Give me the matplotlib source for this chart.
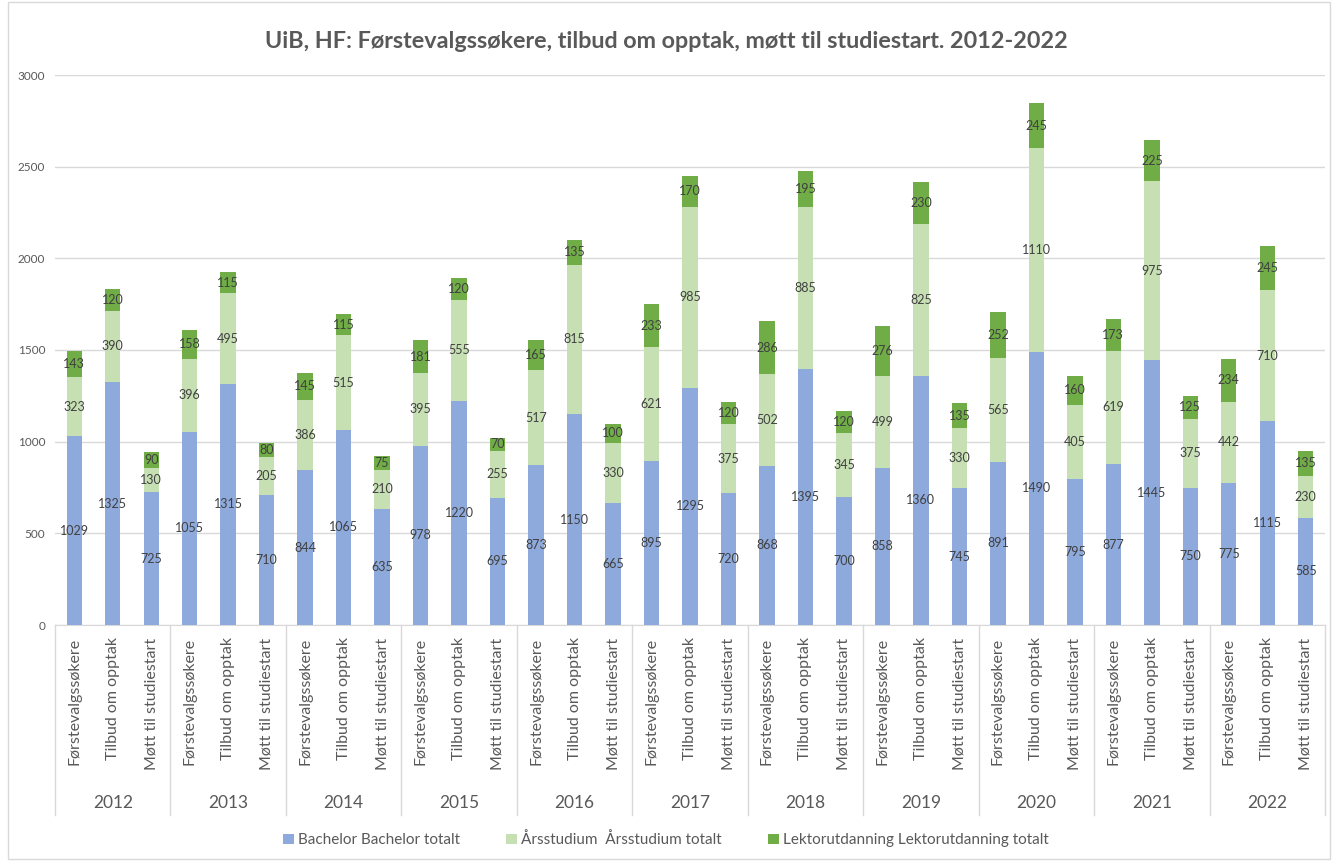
import matplotlib
matplotlib.use('Agg')
import matplotlib.pyplot as plt
import numpy as np

plt.rcParams['font.family'] = ['Lato', 'DejaVu Sans']

years = ['2012', '2013', '2014', '2015', '2016', '2017', '2018', '2019', '2020', '2021', '2022']
stages = ['Førstevalgssøkere', 'Tilbud om opptak', 'Møtt til studiestart']

bachelor = [1029, 1325, 725, 1055, 1315, 710, 844, 1065, 635, 978, 1220, 695,
            873, 1150, 665, 895, 1295, 720, 868, 1395, 700, 858, 1360, 745,
            891, 1490, 795, 877, 1445, 750, 775, 1115, 585]
arsstudium = [323, 390, 130, 396, 495, 205, 386, 515, 210, 395, 555, 255,
              517, 815, 330, 621, 985, 375, 502, 885, 345, 499, 825, 330,
              565, 1110, 405, 619, 975, 375, 442, 710, 230]
lektor = [143, 120, 90, 158, 115, 80, 145, 115, 75, 181, 120, 70,
          165, 135, 100, 233, 170, 120, 286, 195, 120, 276, 230, 135,
          252, 245, 160, 173, 225, 125, 234, 245, 135]

series_names = ['Bachelor Bachelor totalt', 'Årsstudium  Årsstudium totalt',
                'Lektorutdanning Lektorutdanning totalt']
colors = ['#8EA9DB', '#C6E0B4', '#70AD47']

text_col = '#595959'
label_col = '#404040'

fig = plt.figure(figsize=(13.32, 8.61), dpi=100)
ax = fig.add_axes([55 / 1332, 1 - 625 / 861, 1270 / 1332, 550 / 861])

x = np.arange(len(bachelor))
bottom = np.zeros(len(bachelor))
for vals, name, col in zip([bachelor, arsstudium, lektor], series_names, colors):
    bars = ax.bar(x, vals, width=0.4, bottom=bottom, color=col, label=name, zorder=3)
    ax.bar_label(bars, label_type='center', fontsize=9, color=label_col)
    bottom += np.array(vals)

ax.set_xlim(-0.5, len(bachelor) - 0.5)
ax.set_ylim(0, 3000)
ax.set_yticks(np.arange(0, 3001, 500))
ax.grid(axis='y', color='#D9D9D9', linewidth=1, zorder=0)
for s in ['top', 'right', 'left']:
    ax.spines[s].set_visible(False)
ax.spines['bottom'].set_color('#D9D9D9')
ax.tick_params(axis='y', length=0, labelsize=8.5, labelcolor=text_col, pad=7)

ax.set_xticks(x)
ax.set_xticklabels(stages * len(years), rotation=90, fontsize=11.5, color=text_col)
ax.tick_params(axis='x', length=0, pad=9)

trans = ax.get_xaxis_transform()
for i, yr in enumerate(years):
    ax.text(i * 3 + 1, -0.324, yr, transform=trans, ha='center', va='center',
            fontsize=12.5, color=text_col)
for b in np.arange(-0.5, len(bachelor), 3):
    ax.plot([b, b], [0, -0.345], transform=trans, color='#D9D9D9', lw=1, clip_on=False)

fig.text(0.5, 1 - 42 / 861, 'UiB, HF: Førstevalgssøkere, tilbud om opptak, møtt til studiestart. 2012-2022',
         ha='center', va='center', fontsize=16.8, fontweight='bold', color=text_col)

fig.legend(loc='center', bbox_to_anchor=(0.5, 1 - 840 / 861), ncol=3, frameon=False,
           fontsize=11, labelcolor=text_col, handlelength=0.7, handleheight=0.7,
           columnspacing=3, handletextpad=0.3)

border = plt.Rectangle((8 / 1332, 2 / 861), 1 - 10 / 1332, 1 - 4 / 861, transform=fig.transFigure,
                       fill=False, edgecolor='#D9D9D9', lw=1)
fig.patches.append(border)

fig.savefig('out.png', dpi=100)
